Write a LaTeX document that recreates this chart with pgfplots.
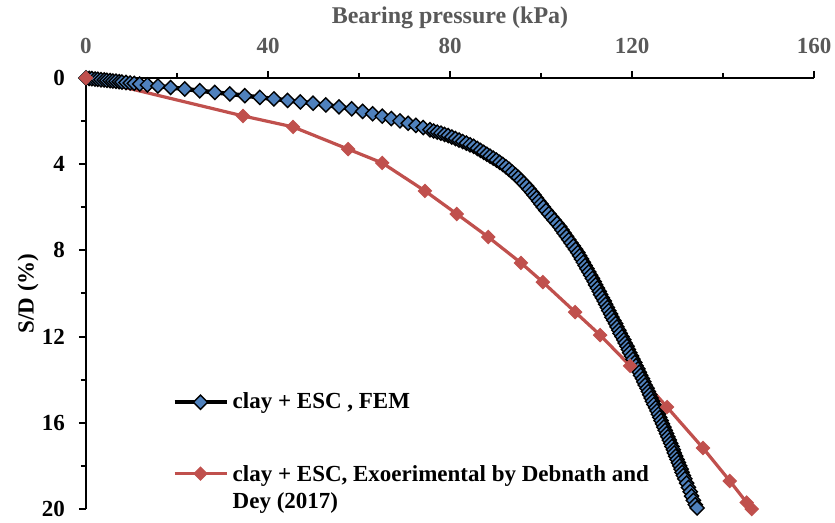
\documentclass[border=0pt]{standalone}
\usepackage{fontspec}
\setmainfont{Liberation Serif}
\usepackage{pgfplots}
\pgfplotsset{compat=1.18}
\definecolor{fembl}{HTML}{4F81BD}
\definecolor{expred}{HTML}{C0504D}
\definecolor{axgray}{HTML}{595959}
\begin{document}
\begin{tikzpicture}
\begin{axis}[name=ax,
 scale only axis, width=364pt, height=215.5pt,
 xmin=0,xmax=160,ymin=0,ymax=20,
 y dir=reverse,
 axis x line*=top, axis y line*=left,
 axis line style={line width=1pt, black},
 xtick={0,40,...,160}, ytick={0,4,...,20},
 minor x tick num=1, minor y tick num=1,
 tick align=outside,
 major tick length=3.5pt, minor tick length=2.5pt,
 every tick/.style={line width=1pt, black},
 /pgf/number format/assume math mode=true,
 clip=false,
 xticklabel style={font=\fontsize{11.5}{13}\selectfont\bfseries, text=axgray, yshift=5pt},
 yticklabel style={font=\fontsize{11.5}{13}\selectfont\bfseries, text=black, xshift=-3.5pt},
 xlabel={Bearing pressure (kPa)},
 ylabel={S/D (\%)},
 every axis x label/.style={at={([yshift=27pt]axis description cs:0.5,1)}, anchor=base, font=\fontsize{12}{13}\selectfont\bfseries, text=axgray},
 every axis y label/.style={at={([xshift=-29pt]axis description cs:0,0.5)}, anchor=center, rotate=90, font=\fontsize{11.5}{13}\selectfont\bfseries, text=black},
 legend style={at={(0.118,0.28)}, anchor=north west, draw=none, fill=none, inner sep=0pt,
   font=\fontsize{11.5}{13.5}\selectfont\bfseries, row sep=21.5pt},
 legend cell align=left,
 legend image code/.code={\draw[mark repeat=2,mark phase=2,#1] plot coordinates {(0pt,0pt) (13pt,0pt) (26pt,0pt)};},
]
\addplot[black, line width=2.2pt, mark=square*, mark size=2.5pt,
  mark options={rotate=45, fill=fembl, draw=black, line width=0.7pt}] coordinates {
(0,0) (0.7,0.02) (1.3,0.03) (2.0,0.05) (2.6,0.06) (3.3,0.08) (4.0,0.09) (4.6,0.11)
(5.3,0.12) (5.9,0.14) (6.6,0.15) (7.3,0.17) (7.9,0.19) (8.8,0.21) (9.7,0.23) (10.6,0.25)
(11.8,0.28) (13.5,0.32) (15.8,0.37) (18.6,0.44) (21.7,0.51) (25.0,0.59) (28.3,0.67)
(31.6,0.74) (34.9,0.82) (38.2,0.90) (41.3,0.97) (44.3,1.04) (47.1,1.11) (49.9,1.17)
(52.7,1.25) (55.6,1.34) (58.4,1.43) (60.8,1.55) (63.0,1.66) (65.1,1.77) (67.1,1.88)
(69.0,1.99) (70.8,2.10) (72.5,2.20) (74.1,2.30) (75.6,2.40)
(76.4,2.46) (77.2,2.51) (78.0,2.56) (78.8,2.62) (79.6,2.67) (80.4,2.74) (81.2,2.81)
(82.0,2.88) (82.8,2.95) (83.6,3.02) (84.4,3.10) (85.2,3.17) (86.0,3.27) (86.7,3.36)
(87.4,3.45) (88.1,3.54) (88.8,3.63) (89.5,3.72) (90.2,3.81) (90.9,3.91) (91.6,4.01)
(92.3,4.12) (93.0,4.24) (93.7,4.37) (94.4,4.50) (95.0,4.62) (95.6,4.75) (96.2,4.88)
(96.8,5.01) (97.4,5.16) (98.0,5.31) (98.5,5.44) (99.0,5.57) (99.5,5.71) (100.0,5.85)
(100.5,5.99) (101.1,6.15) (101.7,6.30) (102.3,6.45) (102.9,6.60) (103.5,6.75)
(104.1,6.90) (104.6,7.05) (105.1,7.20) (105.6,7.35) (106.1,7.50) (106.6,7.65)
(107.1,7.80) (107.6,7.95) (108.1,8.10) (108.5,8.25) (108.9,8.40) (109.3,8.55)
(109.7,8.70) (110.1,8.85) (110.5,9.00) (110.9,9.15) (111.3,9.30) (111.7,9.45)
(112.0,9.60) (112.4,9.75) (112.8,9.90) (113.1,10.05) (113.5,10.20) (113.9,10.35)
(114.2,10.50) (114.6,10.65) (114.9,10.80) (115.3,10.95) (115.6,11.10) (116.0,11.25)
(116.4,11.40) (116.7,11.55) (117.1,11.70) (117.4,11.85) (117.8,12.00) (118.2,12.15)
(118.5,12.30) (118.9,12.45) (119.2,12.60) (119.5,12.75) (119.9,12.90) (120.2,13.05)
(120.6,13.20) (120.9,13.35) (121.3,13.50) (121.6,13.65) (121.9,13.80) (122.3,13.95)
(122.6,14.10) (122.9,14.25) (123.3,14.40) (123.6,14.55) (123.9,14.70) (124.2,14.85)
(124.5,15.00) (124.8,15.15) (125.2,15.30) (125.5,15.45) (125.8,15.60) (126.1,15.75)
(126.4,15.90) (126.7,16.05) (127.0,16.20) (127.3,16.35) (127.6,16.50) (127.9,16.65)
(128.2,16.80) (128.5,16.95) (128.8,17.10) (129.1,17.25) (129.3,17.40) (129.6,17.55)
(129.9,17.70) (130.2,17.85) (130.5,18.00) (130.8,18.15) (131.0,18.30) (131.3,18.45)
(131.6,18.60) (132.0,18.80) (132.4,19.00) (132.8,19.20) (133.1,19.40) (133.5,19.60)
(133.9,19.80) (134.3,19.95)
};
\addlegendentry{clay + ESC , FEM}
\addplot[expred, line width=1.6pt, mark=square*, mark size=2.3pt,
  mark options={rotate=45, fill=expred, draw=expred, line width=0.6pt}] coordinates {
(0,0) (34.5,1.76) (45.5,2.27) (57.6,3.30) (65.1,3.94) (74.5,5.24) (81.5,6.31)
(88.4,7.38) (95.6,8.58) (100.4,9.47) (107.5,10.86) (113.0,11.93) (119.6,13.36)
(127.7,15.27) (135.6,17.17) (141.5,18.70) (145.2,19.70) (146.3,20.00)
};
\addlegendentry{\begin{tabular}[t]{@{}l@{}}clay + ESC, Exoerimental by Debnath and\\Dey (2017)\end{tabular}}
\end{axis}
\pgfresetboundingbox
\path ([shift={(-43pt,-7pt)}]ax.south west) rectangle ([shift={(10.5pt,39pt)}]ax.north east);
\end{tikzpicture}
\end{document}
